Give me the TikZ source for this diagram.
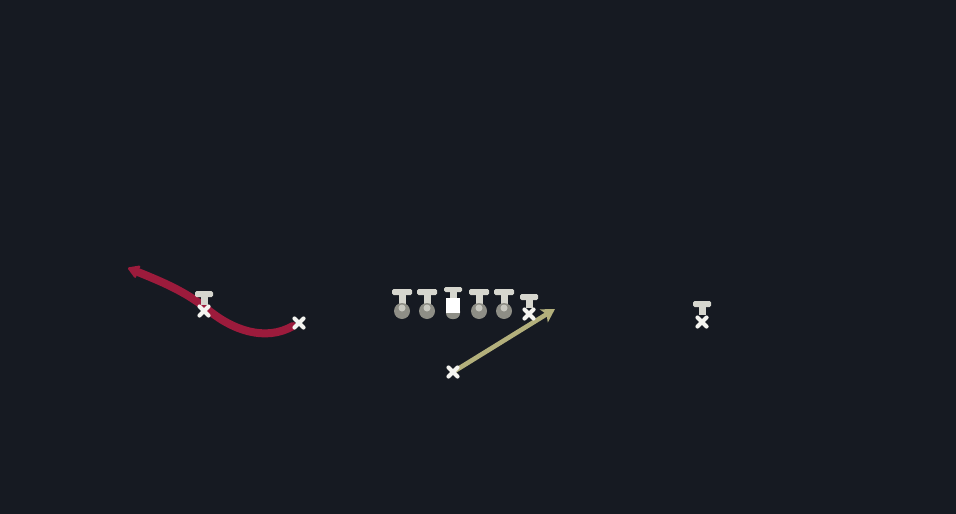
\documentclass[tikz,border=0pt]{standalone}
\usetikzlibrary{arrows.meta}
\definecolor{bg}{HTML}{161A22}
\definecolor{routered}{HTML}{9C1B3C}
\definecolor{routeolive}{HTML}{B3B07C}
\definecolor{tgrey}{HTML}{D6D6CE}
\definecolor{ballgrey}{HTML}{8E8E86}
\definecolor{xwhite}{HTML}{F4F4F0}
\tikzset{
  xmark/.pic={\draw[xwhite,line width=4.2pt,line cap=round] (-4.5,-4.5)--(4.5,4.5) (-4.5,4.5)--(4.5,-4.5);},
  tmark/.pic={\fill[tgrey,rounded corners=1.5pt] (-9,-4) rectangle (9,2);
              \fill[tgrey] (-3.5,1) rectangle (3.5,10);},
  lineman/.pic={\fill[tgrey,rounded corners=1.5pt] (-10,-4) rectangle (10,2);
                \fill[tgrey] (-3.5,1) rectangle (3.5,12);
                \fill[ballgrey] (0,18) circle (8);
                \fill[tgrey!80!ballgrey] (0,15) circle (3.5);},
  centerman/.pic={\fill[tgrey,rounded corners=1.5pt] (-9,-6) rectangle (9,-1);
                \fill[tgrey] (-3.5,-2) rectangle (3.5,6);
                \fill[ballgrey,rounded corners=6pt] (-7,12) rectangle (7,26);
                \fill[white] (-7,5) rectangle (7,20);},
  redroute/.style={routered,line width=8pt,line cap=round,-{Stealth[length=14pt,width=17pt,round]}},
  oliveroute/.style={routeolive,line width=4.6pt,line cap=round,-{Stealth[length=13pt,width=15pt,inset=3pt]}}
}
\begin{document}
\begin{tikzpicture}[x=1pt,y=-1pt]
\fill[bg] (0,0) rectangle (956,514);
\useasboundingbox (0,0) rectangle (956,514);
% players
\coordinate (wr) at (299,323);
\coordinate (qb) at (453,372);
\coordinate (slot) at (204,311);
\coordinate (te) at (529,314);
\coordinate (rw) at (702,322);
\coordinate (redtip) at (128,268);
\coordinate (olivetip) at (555,309);
% routes
\draw[redroute] (wr) ++(-6,3) .. controls (265,342) and (232,330) .. (207,309)
   .. controls (185,291) and (160,281) .. (redtip);
\draw[oliveroute] (qb) -- (olivetip);
% defenders
\pic at (204,295) {tmark};
\pic at (529,298) {tmark};
\pic at (702,305) {tmark};
\pic at (402,293) {lineman};
\pic at (427,293) {lineman};
\pic at (453,293) {centerman};
\pic at (479,293) {lineman};
\pic at (504,293) {lineman};
% offense
\pic at (wr) {xmark};
\pic at (qb) {xmark};
\pic at (slot) {xmark};
\pic at (te) {xmark};
\pic at (rw) {xmark};
\end{tikzpicture}
\end{document}
